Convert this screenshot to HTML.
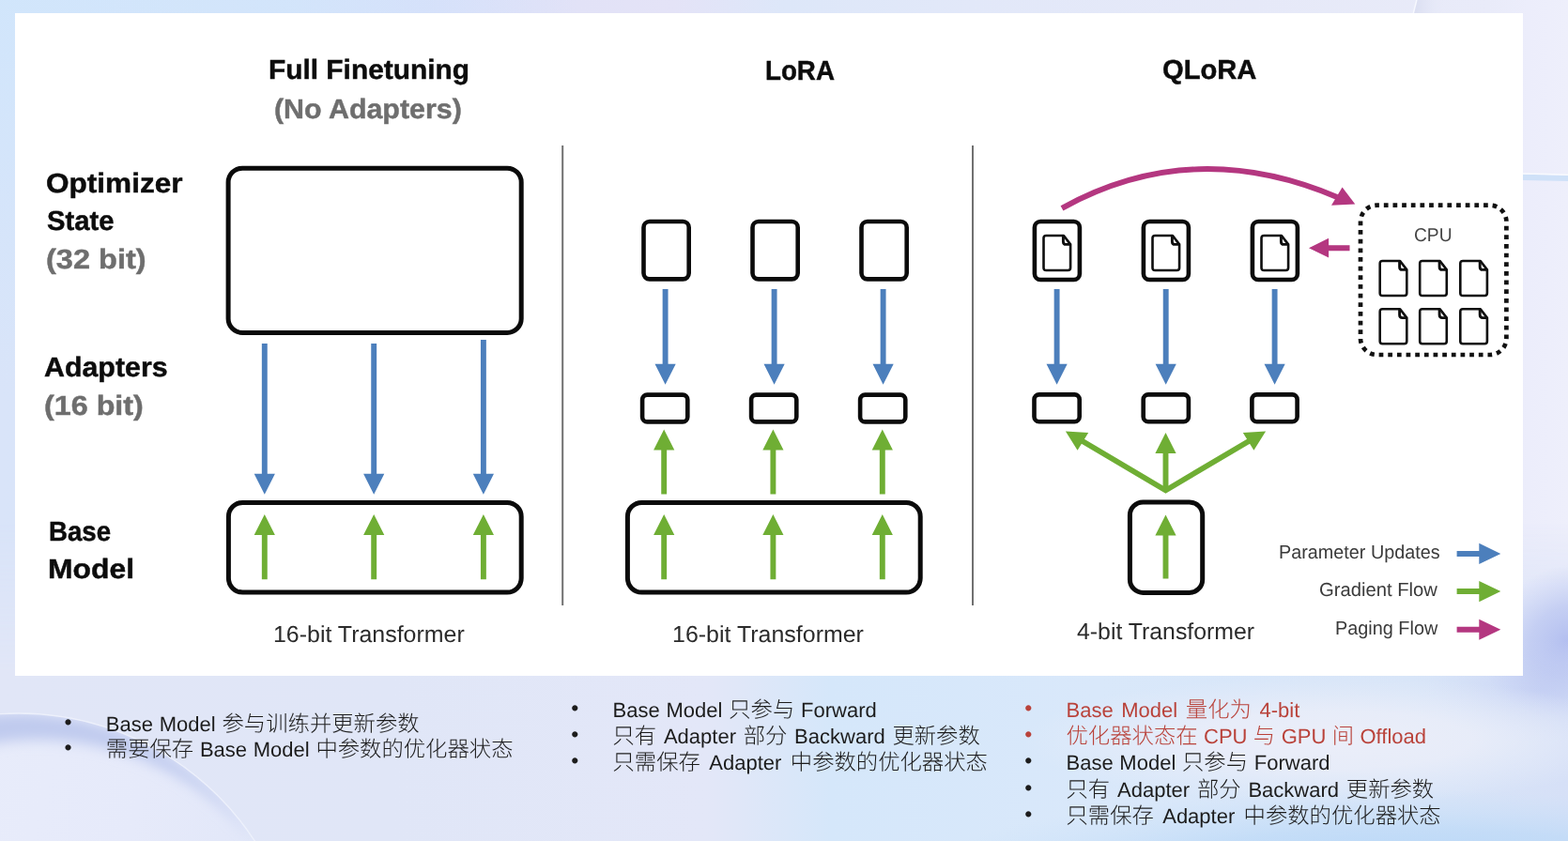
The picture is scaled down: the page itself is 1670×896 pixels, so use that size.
<!DOCTYPE html>
<html lang="zh">
<head>
<meta charset="utf-8">
<title>QLoRA</title>
<style>
html,body{margin:0;padding:0;}
body{width:1670px;height:896px;overflow:hidden;position:relative;font-family:"Liberation Sans",sans-serif;background:#dfe6f8;text-rendering:geometricPrecision;}
#bg{position:absolute;left:0;top:0;width:1670px;height:896px;}
#panel{position:absolute;left:16px;top:14px;width:1606px;height:705.6px;background:#fff;}
#dia{position:absolute;left:0;top:0;width:1670px;height:896px;filter:blur(0.55px);}
#txt{filter:blur(0.5px);}
.t{position:absolute;white-space:nowrap;line-height:1;transform-origin:0 0;}
.b{font-weight:bold;-webkit-text-stroke:0.45px currentColor;}
ul{list-style:none;margin:0;padding:0;filter:blur(0.35px);}
li{position:absolute;white-space:nowrap;line-height:30px;height:30px;font-size:22.0px;word-spacing:2.2px;color:#1c1c1c;font-family:"Liberation Sans","Noto Sans CJK SC",sans-serif;}
.k{font-size:23.35px;font-weight:300;}
li::before{content:"\2022";position:absolute;left:-44.2px;top:-1.6px;font-size:23px;word-spacing:0;}
li.red{color:#b9423a;}
</style>
</head>
<body>
<svg id="bg" viewBox="0 0 1670 896">
<defs>
<linearGradient id="gb" x1="0" y1="0" x2="1" y2="0">
<stop offset="0" stop-color="#d9e4f9"/><stop offset="0.18" stop-color="#d5e4fa"/><stop offset="0.27" stop-color="#d7e0fa"/><stop offset="0.37" stop-color="#e2e2f7"/><stop offset="0.43" stop-color="#e4e3f7"/><stop offset="0.5" stop-color="#dde7f9"/><stop offset="0.62" stop-color="#e2e8f9"/><stop offset="0.8" stop-color="#e6e9f8"/><stop offset="0.95" stop-color="#e9ebf9"/><stop offset="0.975" stop-color="#ecedfb"/><stop offset="1" stop-color="#eeeffb"/>
</linearGradient>
<linearGradient id="gbot" x1="0" y1="0" x2="1" y2="0">
<stop offset="0" stop-color="#e1e6f7"/><stop offset="0.25" stop-color="#e0e6f7"/><stop offset="0.45" stop-color="#e3e7f8"/><stop offset="0.475" stop-color="#dfe7f8"/><stop offset="0.53" stop-color="#d5e7fa"/><stop offset="0.7" stop-color="#d9e8fa"/><stop offset="0.9" stop-color="#d8e5f8"/><stop offset="1" stop-color="#d6e0f7"/>
</linearGradient>
<linearGradient id="gmk" x1="0" y1="0" x2="0" y2="1"><stop offset="0" stop-color="#000"/><stop offset="0.62" stop-color="#000"/><stop offset="0.8" stop-color="#fff"/><stop offset="1" stop-color="#fff"/></linearGradient>
<mask id="mk"><rect width="1670" height="896" fill="url(#gmk)"/></mask>
<radialGradient id="gtl" cx="0" cy="0" r="1" gradientTransform="scale(1 1)"><stop offset="0" stop-color="#cfe6fc"/><stop offset="1" stop-color="#cfe6fc" stop-opacity="0"/></radialGradient>
<radialGradient id="gpw" cx="0.5" cy="0.5" r="0.5"><stop offset="0" stop-color="#b3bff0"/><stop offset="0.45" stop-color="#bcc7f1" stop-opacity="0.75"/><stop offset="1" stop-color="#c6cff3" stop-opacity="0"/></radialGradient>
<radialGradient id="gbr" cx="0.5" cy="0.5" r="0.5"><stop offset="0" stop-color="#b6d6f7"/><stop offset="0.5" stop-color="#bedaf7" stop-opacity="0.75"/><stop offset="1" stop-color="#c8e0f8" stop-opacity="0"/></radialGradient>
<radialGradient id="glt" cx="0.5" cy="0.5" r="0.5"><stop offset="0" stop-color="#ebeef9"/><stop offset="0.45" stop-color="#e9edf9" stop-opacity="0.9"/><stop offset="1" stop-color="#e6ecf9" stop-opacity="0"/></radialGradient>
<linearGradient id="gci" x1="0" y1="0" x2="1" y2="0.3">
<stop offset="0" stop-color="#cad5f3"/><stop offset="0.12" stop-color="#d2dbf5"/><stop offset="0.38" stop-color="#e8ecfa"/><stop offset="0.7" stop-color="#e6eafa"/><stop offset="1" stop-color="#e0e6f8"/>
</linearGradient>
<filter id="bl8" x="-20%" y="-20%" width="140%" height="140%"><feGaussianBlur stdDeviation="7"/></filter>
<filter id="bl2"><feGaussianBlur stdDeviation="1.2"/></filter>
<clipPath id="cc"><circle cx="20" cy="1060" r="300"/></clipPath>
</defs>
<rect width="1670" height="896" fill="url(#gb)"/>
<rect width="620" height="420" fill="url(#gtl)" opacity="0.8"/>
<rect width="1670" height="896" fill="url(#gbot)" mask="url(#mk)"/>
<ellipse cx="1670" cy="682" rx="95" ry="78" fill="url(#gpw)" transform="rotate(-30 1670 682)"/><ellipse cx="1640" cy="735" rx="120" ry="55" fill="url(#gpw)" opacity="0.3"/>
<ellipse cx="1500" cy="922" rx="500" ry="80" fill="url(#gbr)"/>
<ellipse cx="1420" cy="788" rx="330" ry="68" fill="url(#glt)"/>
<!-- top-right arc + lighter zone -->
<linearGradient id="gar" x1="0" y1="0" x2="1" y2="0"><stop offset="0" stop-color="#d9ddf0"/><stop offset="1" stop-color="#e6e9f8" stop-opacity="0"/></linearGradient>
<path d="M1505.4 14L1509 0H1539L1535 14Z" fill="url(#gar)"/>
<path d="M1505.2 14.5L1509 -0.5" fill="none" stroke="#f6f8fe" stroke-width="1.5"/>
<!-- right streak -->
<path d="M1622 185.8Q1646 186.2 1670 187V193Q1646 192.6 1622 192Z" fill="#cfe1f8"/><path d="M1622 185Q1646 185.4 1670 186.2" fill="none" stroke="#f8fafe" stroke-width="1.6"/>
<!-- bottom-left glass circle -->
<circle cx="20" cy="1060" r="300" fill="url(#gci)"/>
<g clip-path="url(#cc)"><path d="M20 760A300 300 0 0 1 20 1360A300 300 0 0 1 20 760ZM41 788A300 300 0 0 0 41 1388A300 300 0 0 0 41 788Z" fill="#bfcaee" fill-rule="evenodd" filter="url(#bl8)"/></g>
<circle cx="20" cy="1060" r="300" fill="none" stroke="#eef2fc" stroke-width="1.4" opacity="0.9"/>
</svg>

<div id="panel"></div>
<svg id="dia" viewBox="0 0 1670 896">
<path d="M598.2 155H600.2V645H598.2Z M1035 155H1037V645H1035Z" fill="#707070"/>
<g fill="#fff" stroke="#0b0b0b" stroke-width="4.6">
<rect x="243.1" y="179.2" width="312.1" height="175.3" rx="15" stroke-width="5"/>
<rect x="243.4" y="535.4" width="311.8" height="95.7" rx="15" stroke-width="5"/>
<rect x="685.5" y="236.0" width="48.2" height="61.4" rx="6.3" />
<rect x="801.5" y="236.0" width="48.2" height="61.4" rx="6.3" />
<rect x="917.5" y="236.0" width="48.2" height="61.4" rx="6.3" />
<rect x="684.1" y="420.6" width="48.2" height="28.8" rx="5.2" />
<rect x="800.1" y="420.6" width="48.2" height="28.8" rx="5.2" />
<rect x="916.1" y="420.6" width="48.2" height="28.8" rx="5.2" />
<rect x="668.4" y="535.4" width="311.8" height="95.7" rx="15" stroke-width="5"/>
<rect x="1101.9" y="236.0" width="48.0" height="62.0" rx="6.3" />
<rect x="1217.9" y="236.0" width="48.0" height="62.0" rx="6.3" />
<rect x="1333.9" y="236.0" width="48.0" height="62.0" rx="6.3" />
<rect x="1101.5" y="420.4" width="48.2" height="28.8" rx="5.2" />
<rect x="1217.7" y="420.4" width="48.2" height="28.8" rx="5.2" />
<rect x="1333.4" y="420.4" width="48.2" height="28.8" rx="5.2" />
<rect x="1203.4" y="535.0" width="77.3" height="96.4" rx="14" stroke-width="5"/>
</g>
<g transform="translate(1111.5 251.0)"><path d="M2.8 0H21.4L28.6 9.4V34.2Q28.6 37 25.8 37H2.8Q0 37 0 34.2V2.8Q0 0 2.8 0Z" fill="#fff" stroke="#0e0e0e" stroke-width="2.6" stroke-linejoin="round"/><path d="M20.9 0.5V6.4Q20.9 9.4 23.9 9.4H28.2" fill="none" stroke="#0e0e0e" stroke-width="2.9" stroke-linejoin="round"/></g>
<g transform="translate(1227.5 251.0)"><path d="M2.8 0H21.4L28.6 9.4V34.2Q28.6 37 25.8 37H2.8Q0 37 0 34.2V2.8Q0 0 2.8 0Z" fill="#fff" stroke="#0e0e0e" stroke-width="2.6" stroke-linejoin="round"/><path d="M20.9 0.5V6.4Q20.9 9.4 23.9 9.4H28.2" fill="none" stroke="#0e0e0e" stroke-width="2.9" stroke-linejoin="round"/></g>
<g transform="translate(1343.5 251.0)"><path d="M2.8 0H21.4L28.6 9.4V34.2Q28.6 37 25.8 37H2.8Q0 37 0 34.2V2.8Q0 0 2.8 0Z" fill="#fff" stroke="#0e0e0e" stroke-width="2.6" stroke-linejoin="round"/><path d="M20.9 0.5V6.4Q20.9 9.4 23.9 9.4H28.2" fill="none" stroke="#0e0e0e" stroke-width="2.9" stroke-linejoin="round"/></g>
<path d="M278.85 366.0H284.75V505.8H278.85Z M270.7 504.8L292.9 504.8L281.8 526.8Z" fill="#4c7fbc"/>
<path d="M395.25 366.0H401.15V505.8H395.25Z M387.1 504.8L409.3 504.8L398.2 526.8Z" fill="#4c7fbc"/>
<path d="M511.95 362.0H517.85V505.8H511.95Z M503.8 504.8L526.0 504.8L514.9 526.8Z" fill="#4c7fbc"/>
<path d="M278.85 617.2H284.75V569.0H278.85Z M270.7 570.0L292.9 570.0L281.8 548.0Z" fill="#6fae34"/>
<path d="M395.25 617.2H401.15V569.0H395.25Z M387.1 570.0L409.3 570.0L398.2 548.0Z" fill="#6fae34"/>
<path d="M511.95 617.2H517.85V569.0H511.95Z M503.8 570.0L526.0 570.0L514.9 548.0Z" fill="#6fae34"/>
<path d="M705.65 307.9H711.55V388.8H705.65Z M697.5 387.8L719.7 387.8L708.6 409.8Z" fill="#4c7fbc"/>
<path d="M821.65 307.9H827.55V388.8H821.65Z M813.5 387.8L835.7 387.8L824.6 409.8Z" fill="#4c7fbc"/>
<path d="M937.65 307.9H943.55V388.8H937.65Z M929.5 387.8L951.7 387.8L940.6 409.8Z" fill="#4c7fbc"/>
<path d="M704.25 526.6H710.15V478.6H704.25Z M696.1 479.6L718.3 479.6L707.2 457.6Z" fill="#6fae34"/>
<path d="M704.25 617.2H710.15V569.0H704.25Z M696.1 570.0L718.3 570.0L707.2 548.0Z" fill="#6fae34"/>
<path d="M820.45 526.6H826.35V478.6H820.45Z M812.3 479.6L834.5 479.6L823.4 457.6Z" fill="#6fae34"/>
<path d="M820.45 617.2H826.35V569.0H820.45Z M812.3 570.0L834.5 570.0L823.4 548.0Z" fill="#6fae34"/>
<path d="M936.85 526.6H942.75V478.6H936.85Z M928.7 479.6L950.9 479.6L939.8 457.6Z" fill="#6fae34"/>
<path d="M936.85 617.2H942.75V569.0H936.85Z M928.7 570.0L950.9 570.0L939.8 548.0Z" fill="#6fae34"/>
<path d="M1122.65 307.9H1128.55V388.8H1122.65Z M1114.5 387.8L1136.7 387.8L1125.6 409.8Z" fill="#4c7fbc"/>
<path d="M1238.75 307.9H1244.65V388.8H1238.75Z M1230.6 387.8L1252.8 387.8L1241.7 409.8Z" fill="#4c7fbc"/>
<path d="M1354.65 307.9H1360.55V388.8H1354.65Z M1346.5 387.8L1368.7 387.8L1357.6 409.8Z" fill="#4c7fbc"/>
<path d="M1238.55 616.4H1244.45V569.4H1238.55Z M1230.4 570.4L1252.6 570.4L1241.5 548.4Z" fill="#6fae34"/>
<path d="M1238.55 521.0H1244.45V482.0H1238.55Z M1230.4 483.0L1252.6 483.0L1241.5 461.0Z" fill="#6fae34"/>
<path d="M1152.5 469.8L1241.5 522.4L1330.5 469.8" fill="none" stroke="#6fae34" stroke-width="5.8" stroke-linejoin="miter"/>
<path d="M1134.9 459.6L1159.2 461.1L1147.6 479.8Z M1348.1 459.6L1323.8 461.1L1335.4 479.8Z" fill="#6fae34"/>
<path d="M1131 221.8Q1270.4 144.7 1424 210" fill="none" stroke="#b43780" stroke-width="5.9"/>
<path d="M1443.3 217.6L1429.6 199.6L1418 218.8Z" fill="#b43780"/>
<path d="M1437.5 261.20V267.20H1414.1V261.20Z M1415.1 253.8L1415.1 274.6L1394.0 264.2Z" fill="#b43780"/>
<rect x="1449" y="218.7" width="155.4" height="159.3" rx="17.5" fill="#fff" stroke="#111" stroke-width="4.7" pathLength="620" stroke-dasharray="4.9 5.1" stroke-dashoffset="2.4"/>
<g transform="translate(1469.7 278.0)"><path d="M2.8 0H21.4L28.6 9.4V34.2Q28.6 37 25.8 37H2.8Q0 37 0 34.2V2.8Q0 0 2.8 0Z" fill="#fff" stroke="#0e0e0e" stroke-width="2.6" stroke-linejoin="round"/><path d="M20.9 0.5V6.4Q20.9 9.4 23.9 9.4H28.2" fill="none" stroke="#0e0e0e" stroke-width="2.9" stroke-linejoin="round"/></g>
<g transform="translate(1512.2 278.0)"><path d="M2.8 0H21.4L28.6 9.4V34.2Q28.6 37 25.8 37H2.8Q0 37 0 34.2V2.8Q0 0 2.8 0Z" fill="#fff" stroke="#0e0e0e" stroke-width="2.6" stroke-linejoin="round"/><path d="M20.9 0.5V6.4Q20.9 9.4 23.9 9.4H28.2" fill="none" stroke="#0e0e0e" stroke-width="2.9" stroke-linejoin="round"/></g>
<g transform="translate(1555.3 278.0)"><path d="M2.8 0H21.4L28.6 9.4V34.2Q28.6 37 25.8 37H2.8Q0 37 0 34.2V2.8Q0 0 2.8 0Z" fill="#fff" stroke="#0e0e0e" stroke-width="2.6" stroke-linejoin="round"/><path d="M20.9 0.5V6.4Q20.9 9.4 23.9 9.4H28.2" fill="none" stroke="#0e0e0e" stroke-width="2.9" stroke-linejoin="round"/></g>
<g transform="translate(1469.7 329.2)"><path d="M2.8 0H21.4L28.6 9.4V34.2Q28.6 37 25.8 37H2.8Q0 37 0 34.2V2.8Q0 0 2.8 0Z" fill="#fff" stroke="#0e0e0e" stroke-width="2.6" stroke-linejoin="round"/><path d="M20.9 0.5V6.4Q20.9 9.4 23.9 9.4H28.2" fill="none" stroke="#0e0e0e" stroke-width="2.9" stroke-linejoin="round"/></g>
<g transform="translate(1512.2 329.2)"><path d="M2.8 0H21.4L28.6 9.4V34.2Q28.6 37 25.8 37H2.8Q0 37 0 34.2V2.8Q0 0 2.8 0Z" fill="#fff" stroke="#0e0e0e" stroke-width="2.6" stroke-linejoin="round"/><path d="M20.9 0.5V6.4Q20.9 9.4 23.9 9.4H28.2" fill="none" stroke="#0e0e0e" stroke-width="2.9" stroke-linejoin="round"/></g>
<g transform="translate(1555.3 329.2)"><path d="M2.8 0H21.4L28.6 9.4V34.2Q28.6 37 25.8 37H2.8Q0 37 0 34.2V2.8Q0 0 2.8 0Z" fill="#fff" stroke="#0e0e0e" stroke-width="2.6" stroke-linejoin="round"/><path d="M20.9 0.5V6.4Q20.9 9.4 23.9 9.4H28.2" fill="none" stroke="#0e0e0e" stroke-width="2.9" stroke-linejoin="round"/></g>
<path d="M1551.6 586.90V592.90H1576.3V586.90Z M1575.3 578.7L1575.3 601.1L1598.3 589.9Z" fill="#4c7fbc"/>
<path d="M1551.6 627.10V633.10H1576.3V627.10Z M1575.3 618.9L1575.3 641.3L1598.3 630.1Z" fill="#6fae34"/>
<path d="M1551.6 667.70V673.70H1576.3V667.70Z M1575.3 659.7L1575.3 681.7L1598.3 670.7Z" fill="#b43780"/>
</svg>
<div id="txt">
<div class="t b" style="left:285.8px;top:60.9px;font-size:29.2px;color:#0c0c0c;transform:scaleX(1.023)">Full Finetuning</div>
<div class="t b" style="left:291.5px;top:103.0px;font-size:29.2px;color:#6e6e6e;transform:scaleX(1.041)">(No Adapters)</div>
<div class="t b" style="left:814.7px;top:61.5px;font-size:29.2px;color:#0c0c0c;transform:scaleX(0.950)">LoRA</div>
<div class="t b" style="left:1238.4px;top:60.8px;font-size:29.2px;color:#0c0c0c;transform:scaleX(0.999)">QLoRA</div>
<div class="t b" style="left:48.8px;top:182.3px;font-size:29.2px;color:#0c0c0c;transform:scaleX(1.081)">Optimizer</div>
<div class="t b" style="left:49.9px;top:222.4px;font-size:29.2px;color:#0c0c0c;transform:scaleX(1.002)">State</div>
<div class="t b" style="left:48.8px;top:262.6px;font-size:29.2px;color:#6e6e6e;transform:scaleX(1.114)">(32 bit)</div>
<div class="t b" style="left:46.6px;top:377.5px;font-size:29.2px;color:#0c0c0c;transform:scaleX(1.040)">Adapters</div>
<div class="t b" style="left:46.5px;top:418.9px;font-size:29.2px;color:#6e6e6e;transform:scaleX(1.106)">(16 bit)</div>
<div class="t b" style="left:51.5px;top:552.8px;font-size:29.2px;color:#0c0c0c;transform:scaleX(0.948)">Base</div>
<div class="t b" style="left:51.3px;top:593.0px;font-size:29.2px;color:#0c0c0c;transform:scaleX(1.091)">Model</div>
<div class="t" style="left:290.7px;top:664.5px;font-size:24.6px;color:#2b2b2b;transform:scaleX(1.014)">16-bit Transformer</div>
<div class="t" style="left:715.8px;top:664.5px;font-size:24.6px;color:#2b2b2b;transform:scaleX(1.015)">16-bit Transformer</div>
<div class="t" style="left:1146.6px;top:661.5px;font-size:24.6px;color:#2b2b2b;transform:scaleX(1.010)">4-bit Transformer</div>
<div class="t" style="left:1506.1px;top:241.2px;font-size:20px;color:#444;transform:scaleX(0.960)">CPU</div>
<div class="t" style="left:1361.8px;top:578.6px;font-size:20.3px;color:#3a3a3a;transform:scaleX(0.976)">Parameter Updates</div>
<div class="t" style="left:1405.4px;top:619.4px;font-size:20.3px;color:#3a3a3a;transform:scaleX(0.998)">Gradient Flow</div>
<div class="t" style="left:1422.2px;top:659.5px;font-size:20.3px;color:#3a3a3a;transform:scaleX(0.979)">Paging Flow</div>
</div>
<ul>
<li class="" style="left:112.8px;top:755.5px;word-spacing:0.7px">Base Model <span class="k">参与训练并更新参数</span></li>
<li class="" style="left:112.8px;top:782.8px;word-spacing:0.6px"><span class="k">需要保存</span> Base Model <span class="k">中参数的优化器状态</span></li>
<li class="" style="left:652.5px;top:740.7px;word-spacing:0.7px">Base Model <span class="k">只参与</span> Forward</li>
<li class="" style="left:652.5px;top:768.7px;word-spacing:1.6px"><span class="k">只有</span> Adapter <span class="k">部分</span> Backward <span class="k">更新参数</span></li>
<li class="" style="left:652.5px;top:796.5px;word-spacing:3.3px"><span class="k">只需保存</span> Adapter <span class="k">中参数的优化器状态</span></li>
<li class="red" style="left:1135.5px;top:740.7px;word-spacing:2.5px">Base Model <span class="k">量化为</span> 4-bit</li>
<li class="red" style="left:1135.5px;top:768.7px;word-spacing:0.3px"><span class="k">优化器状态在</span> CPU <span class="k">与</span> GPU <span class="k">间</span> Offload</li>
<li class="" style="left:1135.5px;top:796.6px;word-spacing:0.6px">Base Model <span class="k">只参与</span> Forward</li>
<li class="" style="left:1135.5px;top:825.6px;word-spacing:1.7px"><span class="k">只有</span> Adapter <span class="k">部分</span> Backward <span class="k">更新参数</span></li>
<li class="" style="left:1135.5px;top:854.0px;word-spacing:3.2px"><span class="k">只需保存</span> Adapter <span class="k">中参数的优化器状态</span></li>
</ul>
</body>
</html>
